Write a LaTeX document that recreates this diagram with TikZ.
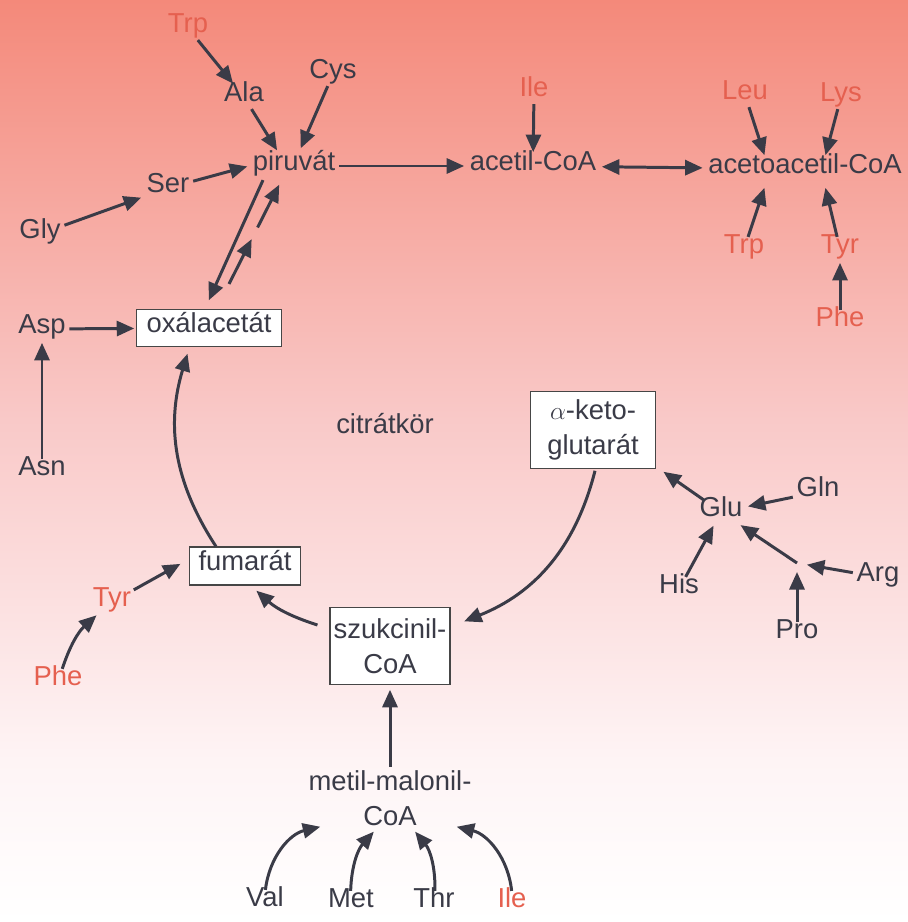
\documentclass[tikz,border=0pt]{standalone}
\usepackage{fontspec}
\setmainfont{Liberation Sans}
\usepackage{tikz}
\usetikzlibrary{arrows.meta,calc}
\definecolor{ink}{HTML}{3A3B47}
\definecolor{aared}{HTML}{E5604F}
\definecolor{bgtop}{HTML}{F4897A}
\definecolor{bgmid}{HTML}{F9C9C8}
\definecolor{bglow}{HTML}{FEF4F5}
\tikzset{
  aa/.style={text=ink, inner sep=2pt, text height=0.73em, text depth=0.21em},
  raa/.style={aa, text=aared},
  mbox/.style={draw=gray!55!black, line width=0.6pt, fill=white, text=ink, inner sep=2pt},
  mbox2/.style={mbox, align=center, minimum height=1.53cm},
  ar/.style={draw=ink, line width=1.7pt, -{Triangle[length=0.35cm,width=0.3cm]}, shorten >=1pt},
  dar/.style={ar, {Triangle[length=0.35cm,width=0.3cm]}-{Triangle[length=0.35cm,width=0.3cm]}, shorten <=1pt},
  cyc/.style={x=0.02cm, y=0.02cm, font=\fontsize{15.6}{19.8}\selectfont}
}
\begin{document}
\begin{tikzpicture}[cyc]
        \useasboundingbox (0,0) rectangle (908,-922);
        \shade[top color=bgtop, bottom color=bgmid] (0,0) rectangle (908,-420);
        \shade[top color=bgmid, bottom color=bglow] (0,-420) rectangle (908,-760);
        \shade[top color=bglow, bottom color=white] (0,-760) rectangle (908,-922);

        \node[raa] (trpA) at (188,-28) {Trp};
        \node[aa] (ala) at (244,-97) {Ala};
        \node[aa] (cys) at (333,-74) {Cys};
        \node[aa] (piru) at (294,-166) {piruvát};
        \node[aa] (ser) at (168,-188) {Ser};
        \node[aa] (gly) at (40,-234) {Gly};
        \node[aa] (acetil) at (533,-166) {acetil-CoA};
        \node[raa] (ileA) at (534,-92) {Ile};
        \node[aa] (acac) at (805,-169) {acetoacetil-CoA};
        \node[raa] (leu) at (745,-95) {Leu};
        \node[raa] (lys) at (841,-97) {Lys};
        \node[raa] (trpB) at (744,-249) {Trp};
        \node[raa] (tyrA) at (840,-249) {Tyr};
        \node[raa] (pheA) at (840,-322) {Phe};
        \node[aa] (asp) at (42,-329) {Asp};
        \node[mbox, aa, minimum width=2.9cm, minimum height=0.74cm] (oxal) at (209,-328) {oxálacetát};
        \node[aa] (asn) at (42,-471) {Asn};
        \node[aa] (citr) at (385,-429) {citrátkör};
        \node[mbox2, minimum width=2.5cm] (akg) at (593,-430) {$\alpha$-keto-\\glutarát};
        \node[aa] (glu) at (721,-512) {Glu};
        \node[aa] (gln) at (818,-492) {Gln};
        \node[aa] (his) at (679,-589) {His};
        \node[aa] (arg) at (878,-577) {Arg};
        \node[aa] (pro) at (797,-634) {Pro};
        \coordinate (jn) at (797,-563);
        \node[mbox, aa, minimum width=2.22cm, minimum height=0.76cm] (fum) at (245,-566) {fumarát};
        \node[raa] (tyrB) at (112,-602) {Tyr};
        \node[raa] (pheB) at (58,-681) {Phe};
        \node[mbox2, minimum width=2.4cm] (szuk) at (390,-646) {szukcinil-\\CoA};
        \node[text=ink, align=center, inner sep=2pt] (mm) at (390,-798) {metil-malonil-\\CoA};
        \node[aa] (val) at (265,-902) {Val};
        \node[aa] (met) at (351,-903) {Met};
        \node[aa] (thr) at (434,-903) {Thr};
        \node[raa] (ileB) at (512,-903) {Ile};

        \draw[ar] (trpA)--(ala);
        \draw[ar] (ala)--($(piru.north)+(-16,2)$); \draw[ar] (cys)--($(piru.north)+(6,4)$);
        \draw[ar] (gly)--(ser); \draw[ar] (ser)--(piru.west);
        \draw[ar] (piru)--(acetil); \draw[ar] (ileA)--(acetil);
        \draw[dar] (acetil)--(acac);
        \draw[ar] (leu)--($(acac.north)+(-40,0)$); \draw[ar] (lys)--($(acac.north)+(20,0)$);
        \draw[ar] (trpB)--($(acac.south)+(-40,-5)$); \draw[ar] (tyrA)--($(acac.south)+(20,-5)$);
        \draw[ar] (pheA)--(tyrA);
        \draw[ar] ($(piru.south)+(-31,-2)$)--($(oxal.north)+(-1,7)$);
        \coordinate (u0) at ($(oxal.north)+(20,25)$);
        \coordinate (u1) at ($(piru.south)+(-14,-5)$);
        \draw[ar] (u0)--($(u0)!0.46!(u1)$); \draw[ar] ($(u0)!0.56!(u1)$)--(u1);
        \draw[ar] (asn)--(asp); \draw[ar] (asp)--(oxal);
        \draw[ar] ($(fum.north)+(-29,0)$) to[bend left=25] ($(oxal.south)+(-21,-5)$);
        \draw[ar] ($(szuk.west)+(-12,21)$) to[bend left=12] ($(fum.south)+(10,-4)$);
        \draw[ar] ($(akg.south)+(2,-2)$) to[bend left=27] ($(szuk.east)+(12,24)$);
        \draw[ar] (tyrB)--($(fum.west)+(-7,3)$); \draw[ar] (pheB) to[bend left=15] (tyrB);
        \draw[ar] (glu)--($(akg.south east)+(6,-2)$);
        \draw[ar] (gln)--(glu); \draw[ar] (his)--(glu); \draw[ar] (jn)--(glu);
        \draw[ar, shorten >=0.2cm] (arg)--(jn); \draw[ar, shorten >=0.18cm] (pro)--(jn);
        \draw[ar, shorten >=0.1cm] (mm)--(szuk);
        \draw[ar] (val) to[bend left=35] ($(mm.south)+(-68,3)$);
        \draw[ar] (met) to[bend left=20] ($(mm.south)+(-15,-1)$);
        \draw[ar] (thr) to[bend right=20] ($(mm.south)+(24,-1)$);
        \draw[ar] (ileB) to[bend right=35] ($(mm.south)+(65,3)$);
      \end{tikzpicture}
\end{document}
